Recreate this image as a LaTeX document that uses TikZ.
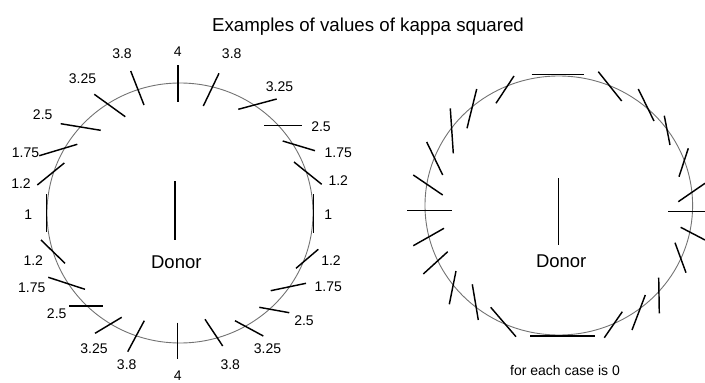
\documentclass[tikz,border=0pt]{standalone}
\usepackage{fontspec}
\setmainfont{Liberation Sans}
\begin{document}
\begin{tikzpicture}[x=1pt,y=-1pt,
  ring/.style={draw=black!55,line width=0.9pt},
  tickmark/.style={draw=black,line width=1.45pt},
  bar/.style={draw=black,line width=1.5pt},
  lbl/.style={inner sep=0pt,font=\fontsize{14}{16}\selectfont},
  donor/.style={inner sep=0pt,font=\fontsize{18.5}{20}\selectfont},
  ttl/.style={inner sep=0pt,font=\fontsize{18.7}{21}\selectfont}]
\useasboundingbox (0,0) rectangle (705,383);
% title
\node[ttl,anchor=base] (title) at (368,31) {Examples of values of kappa squared};
% ---------- left circle ----------
\draw[ring] (180,213) ellipse [x radius=133, y radius=130];
\draw[bar] (175,181) -- (175,240);
\node[donor] (donorL) at (176.3,262) {Donor};
% ticks top half
\draw[tickmark] (178,65) -- (178,102);
\draw[tickmark] (130.7,71) -- (144,105);
\draw[tickmark] (94.3,94.3) -- (125.3,116.7);
\draw[tickmark] (60.7,123.7) -- (100.7,130.3);
\draw[tickmark] (39.3,155.7) -- (77.3,144.3);
\draw[tickmark] (37.3,185) -- (64.3,163);
\draw[tickmark] (46.7,194) -- (46.7,232);
\draw[tickmark] (219,73.3) -- (203.3,106);
\draw[tickmark] (276.7,99) -- (238.3,109.3);
\draw[tickmark] (264,125.7) -- (301.7,125.7);
\draw[tickmark] (282.7,141) -- (315,150.7);
\draw[tickmark] (294,162) -- (321.7,184.3);
\draw[tickmark] (313.3,194) -- (313.3,233.3);
% ticks bottom half
\draw[tickmark] (41,240) -- (65,263.3);
\draw[tickmark] (48.3,277.3) -- (85,289.3);
\draw[tickmark] (69.3,306) -- (103.3,306);
\draw[tickmark] (95,333.3) -- (121.7,317.3);
\draw[tickmark] (127.7,351.7) -- (144.3,320.7);
\draw[tickmark] (177.7,322.7) -- (177.7,359.3);
\draw[tickmark] (205,319.3) -- (222.7,346);
\draw[tickmark] (235,320.7) -- (263.3,336);
\draw[tickmark] (259.3,307.3) -- (289.3,312.7);
\draw[tickmark] (270.7,290.7) -- (306,283.3);
\draw[tickmark] (296,268.3) -- (318.3,249.3);
% labels
\node[lbl] (l4t) at (177.7,52) {4};
\node[lbl] (l38tl) at (122,53.7) {3.8};
\node[lbl] (l38tr) at (231.7,53.7) {3.8};
\node[lbl] (l325tl) at (82.5,78.3) {3.25};
\node[lbl] (l325tr) at (279.5,87) {3.25};
\node[lbl] (l25tl) at (42.7,115) {2.5};
\node[lbl] (l25tr) at (321,126.3) {2.5};
\node[lbl] (l175tl) at (25.5,152.8) {1.75};
\node[lbl] (l175tr) at (338.3,152.5) {1.75};
\node[lbl] (l12tl) at (21,184) {1.2};
\node[lbl] (l12tr) at (338.3,180.5) {1.2};
\node[lbl] (l1l) at (28.3,215) {1};
\node[lbl] (l1r) at (328.3,215) {1};
\node[lbl] (l12bl) at (33.3,260.5) {1.2};
\node[lbl] (l12br) at (331,260.5) {1.2};
\node[lbl] (l175bl) at (31.7,287.5) {1.75};
\node[lbl] (l175br) at (328.3,287) {1.75};
\node[lbl] (l25bl) at (56.7,314) {2.5};
\node[lbl] (l25br) at (304,320.5) {2.5};
\node[lbl] (l325bl) at (94,349) {3.25};
\node[lbl] (l325br) at (267.5,348.3) {3.25};
\node[lbl] (l38bl) at (126.7,365) {3.8};
\node[lbl] (l38br) at (230.3,365) {3.8};
\node[lbl] (l4b) at (177.7,375.5) {4};
% ---------- right circle ----------
\draw[ring] (558.8,205.5) ellipse [x radius=133.8, y radius=129.5];
\draw[bar] (558.3,178.3) -- (558.3,245);
\node[donor] (donorR) at (561.2,261.7) {Donor};
\draw[tickmark] (531.7,74.3) -- (584,74.3);
\draw[tickmark] (514,76) -- (496,103.3);
\draw[tickmark] (476.7,89) -- (467,128.3);
\draw[tickmark] (450.3,108.3) -- (453.3,153.3);
\draw[tickmark] (426.7,142) -- (442.7,175);
\draw[tickmark] (413.3,175) -- (442.7,195);
\draw[tickmark] (407.3,210.3) -- (452,210.3);
\draw[tickmark] (598.3,71.7) -- (621.7,101);
\draw[tickmark] (638.3,89) -- (654,121);
\draw[tickmark] (664.3,115.7) -- (670,145);
\draw[tickmark] (688.3,148.3) -- (679,176.7);
\draw[tickmark] (705,183.3) -- (678.3,201.7);
\draw[tickmark] (668.3,211.7) -- (705,211.7);
\draw[tickmark] (413.3,245.7) -- (444,228.3);
\draw[tickmark] (423.3,274) -- (447.7,251.7);
\draw[tickmark] (456,271) -- (449.3,304.3);
\draw[tickmark] (472.3,284.3) -- (478.3,320);
\draw[tickmark] (490.7,307.3) -- (516,336.7);
\draw[tickmark] (530,336) -- (595,336);
\draw[tickmark] (604.3,337.7) -- (622.3,311.7);
\draw[tickmark] (632,330) -- (645.3,295);
\draw[tickmark] (658.7,277.7) -- (659.3,313.3);
\draw[tickmark] (675,242.7) -- (686,272.7);
\draw[tickmark] (680.7,227.3) -- (705,240);
\node[lbl,anchor=base] (foot) at (565,375) {for each case is 0};
\end{tikzpicture}
\end{document}
